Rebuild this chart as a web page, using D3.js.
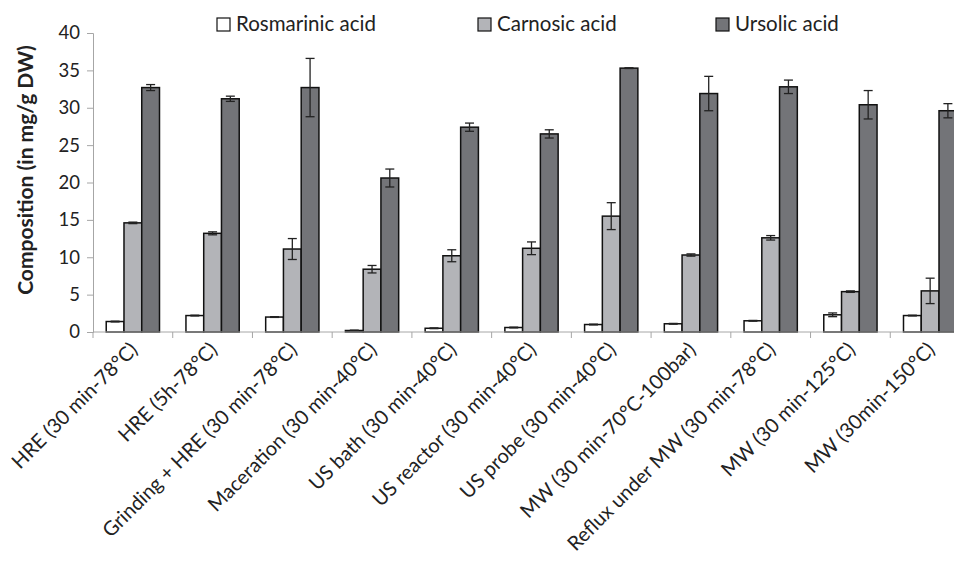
<!DOCTYPE html>
<html>
<head>
<meta charset="utf-8">
<script src="https://cdn.jsdelivr.net/npm/d3@7"></script>
<style>
  body { margin: 0; background: #fff; }
  svg { display: block; font-family: Lato, "Open Sans", sans-serif; }
</style>
</head>
<body>
<svg id="chart" width="954" height="565"></svg>
<script>
const categories = [
  "HRE (30 min-78°C)",
  "HRE (5h-78°C)",
  "Grinding + HRE (30 min-78°C)",
  "Maceration (30 min-40°C)",
  "US bath (30 min-40°C)",
  "US reactor (30 min-40°C)",
  "US probe (30 min-40°C)",
  "MW (30 min-70°C-100bar)",
  "Reflux under MW (30 min-78°C)",
  "MW (30 min-125°C)",
  "MW (30min-150°C)",
];
const seriesNames = ["Rosmarinic acid", "Carnosic acid", "Ursolic acid"];
const rosmarinic = [1.4, 2.2, 2.0, 0.2, 0.5, 0.6, 1.0, 1.1, 1.5, 2.3, 2.2];
const carnosic = [14.6, 13.2, 11.1, 8.4, 10.2, 11.2, 15.5, 10.3, 12.6, 5.4, 5.5];
const ursolic = [32.7, 31.2, 32.7, 20.6, 27.4, 26.5, 35.3, 31.9, 32.8, 30.4, 29.6];
const rosmarinicErr = [0.05, 0.05, 0.05, 0.05, 0.05, 0.05, 0.05, 0.05, 0.05, 0.25, 0.05];
const carnosicErr = [0.1, 0.2, 1.4, 0.5, 0.8, 0.85, 1.8, 0.15, 0.3, 0.1, 1.7];
const ursolicErr = [0.4, 0.35, 3.9, 1.2, 0.55, 0.55, 0.05, 2.3, 0.9, 1.9, 0.95];
const yTicks = [0, 5, 10, 15, 20, 25, 30, 35, 40];

const values = [rosmarinic, carnosic, ursolic];
const errors = [rosmarinicErr, carnosicErr, ursolicErr];
const colors = ["#ffffff", "#b3b4b8", "#737478"];

const margin = { top: 33, left: 93, bottom: 233 };
const plotRight = 970;
const height = 565;

const svg = d3.select("#chart");

const x0 = d3.scaleBand(d3.range(categories.length), [margin.left, plotRight]);
const x1 = d3
  .scaleBand(d3.range(seriesNames.length), [0, x0.bandwidth()])
  .paddingOuter(0.745)
  .paddingInner(0);
const y = d3.scaleLinear([0, 40], [height - margin.bottom, margin.top]);

// bars
seriesNames.forEach((name, s) => {
  const g = svg.append("g");
  g.selectAll("rect")
    .data(values[s])
    .join("rect")
    .attr("x", (d, i) => x0(i) + x1(s))
    .attr("y", (d) => y(d))
    .attr("width", x1.bandwidth())
    .attr("height", (d) => y(0) - y(d))
    .attr("fill", colors[s])
    .attr("stroke", "#111")
    .attr("stroke-width", 1.5);

  // error bars
  const eg = g
    .selectAll("g.err")
    .data(values[s].map((v, i) => ({ v, e: errors[s][i], i })))
    .join("g")
    .attr("class", "err")
    .attr("stroke", "#222")
    .attr("stroke-width", 1.3);
  const cx = (d) => x0(d.i) + x1(s) + x1.bandwidth() / 2;
  eg.append("line")
    .attr("x1", cx)
    .attr("x2", cx)
    .attr("y1", (d) => y(d.v + d.e))
    .attr("y2", (d) => y(d.v - d.e));
  [1, -1].forEach((sign) => {
    eg.append("line")
      .attr("x1", (d) => cx(d) - 4.5)
      .attr("x2", (d) => cx(d) + 4.5)
      .attr("y1", (d) => y(d.v + sign * d.e))
      .attr("y2", (d) => y(d.v + sign * d.e));
  });
});

// y axis
svg
  .append("g")
  .attr("transform", `translate(${margin.left},0)`)
  .call(d3.axisLeft(y).tickValues(yTicks).tickSizeOuter(0).tickSize(6).tickPadding(7))
  .call((g) => g.selectAll("line, path").attr("stroke", "#a6a6a6"))
  .call((g) =>
    g.selectAll("text").attr("font-size", 18.5).attr("fill", "#222").attr("font-family", "Lato, sans-serif"),
  );

// x axis: ticks at category boundaries
const xAxis = svg.append("g").attr("transform", `translate(0,${y(0)})`);
xAxis
  .append("line")
  .attr("x1", margin.left)
  .attr("x2", plotRight)
  .attr("stroke", "#a6a6a6");
xAxis
  .selectAll("line.tick")
  .data(d3.range(categories.length + 1))
  .join("line")
  .attr("class", "tick")
  .attr("x1", (i) => margin.left + i * x0.bandwidth())
  .attr("x2", (i) => margin.left + i * x0.bandwidth())
  .attr("y1", 0)
  .attr("y2", 6)
  .attr("stroke", "#a6a6a6");
xAxis
  .selectAll("text")
  .data(categories)
  .join("text")
  .attr("transform", (d, i) => `translate(${x0(i) + x0.bandwidth() / 2 + 6},19) rotate(-45)`)
  .attr("text-anchor", "end")
  .attr("font-size", 20)
  .attr("fill", "#222")
  .text((d) => d);

// y label
svg
  .append("text")
  .attr("transform", `translate(33,170) rotate(-90)`)
  .attr("text-anchor", "middle")
  .attr("font-size", 21)
  .attr("font-weight", "bold")
  .attr("fill", "#222")
  .text("Composition (in mg/g DW)");

// legend
const legendX = [217, 478, 716];
const legend = svg
  .append("g")
  .selectAll("g")
  .data(seriesNames)
  .join("g")
  .attr("transform", (d, i) => `translate(${legendX[i]},18)`);
legend
  .append("rect")
  .attr("width", 13)
  .attr("height", 13)
  .attr("fill", (d, i) => colors[i])
  .attr("stroke", "#111")
  .attr("stroke-width", 1.2);
legend
  .append("text")
  .attr("x", 19)
  .attr("y", 13)
  .attr("font-size", 20.5)
  .attr("fill", "#222")
  .text((d) => d);
</script>
</body>
</html>
